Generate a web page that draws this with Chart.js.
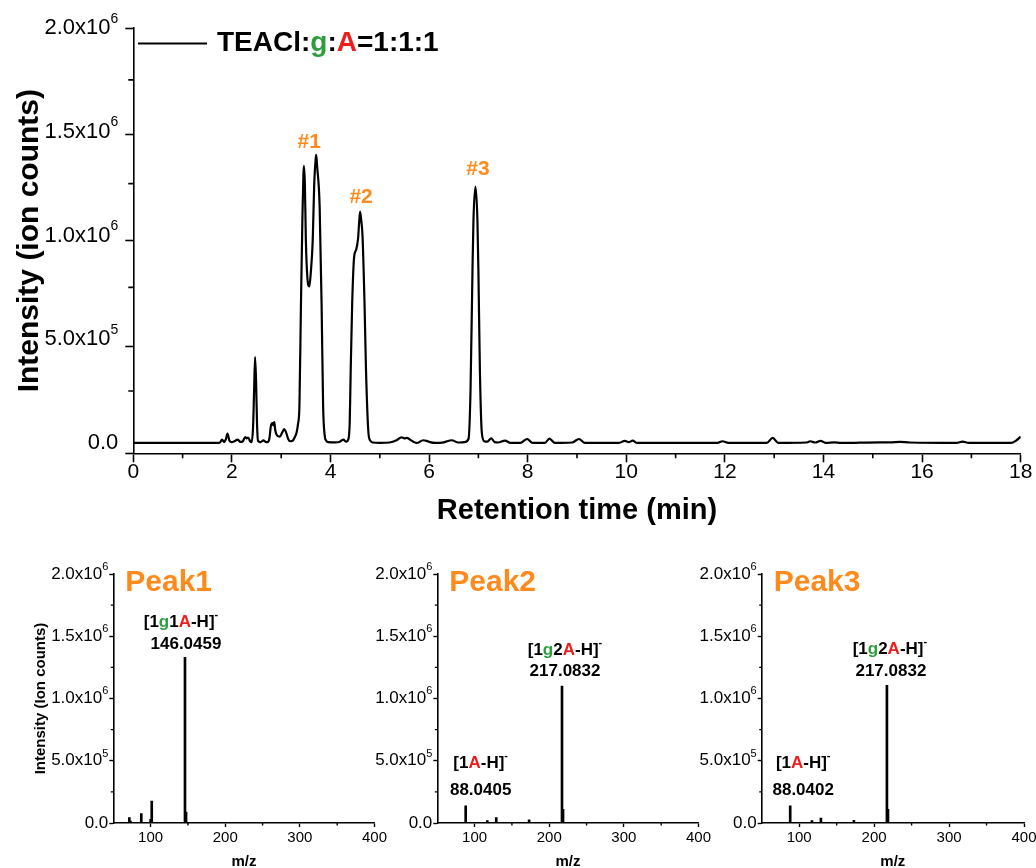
<!DOCTYPE html>
<html>
<head>
<meta charset="utf-8">
<title>TEACl:g:A=1:1:1 — chromatogram and spectra</title>
<script src="https://cdn.jsdelivr.net/npm/chart.js@4.4.1/dist/chart.umd.min.js"></script>
<style>
  html, body { margin: 0; padding: 0; background: #fff; }
  #wrap { position: relative; width: 1036px; height: 868px; overflow: hidden; }
  canvas { position: absolute; }
</style>
</head>
<body>
<div id="wrap">
  <canvas id="chrom" width="1036" height="540" style="left:0;top:0"></canvas>
  <canvas id="ms1" width="400" height="328" style="left:0;top:540px"></canvas>
  <canvas id="ms2" width="380" height="328" style="left:340px;top:540px"></canvas>
  <canvas id="ms3" width="366" height="328" style="left:670px;top:540px"></canvas>
</div>
<script>
// ---------- chromatogram (retention time in min, intensity in ion counts) ----------
const retentionTime = [
  0.00, 1.00, 1.70, 1.76, 1.80, 1.84, 1.88, 1.91, 1.95, 1.99, 2.05, 2.12, 2.17, 2.22, 2.27, 2.30,
  2.33, 2.37, 2.40, 2.43, 2.45, 2.47, 2.49, 2.51, 2.53, 2.58, 2.64, 2.68, 2.72, 2.76, 2.79, 2.82,
  2.84, 2.86, 2.88, 2.92, 2.97, 3.02, 3.06, 3.10, 3.14, 3.18, 3.23, 3.28, 3.31, 3.34, 3.37, 3.40,
  3.43, 3.45, 3.46, 3.48, 3.50, 3.53, 3.57, 3.60, 3.64, 3.67, 3.70, 3.71, 3.73, 3.78, 3.82, 3.85,
  3.88, 3.91, 3.95, 4.10, 4.19, 4.26, 4.32, 4.36, 4.39, 4.41, 4.44, 4.48, 4.52, 4.56, 4.58, 4.60,
  4.62, 4.65, 4.69, 4.72, 4.77, 4.81, 4.86, 5.00, 5.20, 5.34, 5.44, 5.50, 5.55, 5.61, 5.68, 5.75,
  5.88, 5.95, 6.02, 6.12, 6.30, 6.46, 6.59, 6.72, 6.80, 6.84, 6.88, 6.90, 6.94, 6.98, 7.00, 7.03,
  7.07, 7.12, 7.18, 7.26, 7.33, 7.40, 7.54, 7.65, 7.85, 7.99, 8.10, 8.35, 8.44, 8.55, 8.90, 9.04,
  9.16, 9.85, 9.97, 10.05, 10.13, 10.22, 11.85, 11.95, 12.07, 12.85, 12.97, 13.08, 13.65, 13.73, 13.83, 13.94,
  14.05, 14.22, 14.35, 15.15, 15.35, 15.55, 15.75, 16.70, 16.82, 16.95, 17.80, 17.90, 18.00
];
const intensity = [
  0, 0, 0, 2e3, 16e3, 4e3, 20e3, 45e3, 10e3, 4e3, 8e3, 16e3, 5e3, 8e3, 28e3, 22e3,
  26e3, 8e3, 4e3, 80e3, 250e3, 414e3, 300e3, 90e3, 10e3, 4e3, 12e3, 6e3, 4e3, 20e3, 80e3, 95e3,
  85e3, 100e3, 60e3, 35e3, 30e3, 50e3, 67e3, 50e3, 20e3, 8e3, 10e3, 30e3, 48e3, 90e3, 180e3, 660e3,
  1080e3, 1290e3, 1335e3, 1250e3, 980e3, 800e3, 754e3, 820e3, 980e3, 1250e3, 1370e3, 1388e3, 1330e3, 1140e3, 660e3, 180e3,
  40e3, 12e3, 4e3, 3e3, 6e3, 16e3, 6e3, 16e3, 100e3, 353e3, 674e3, 898e3, 931e3, 987e3, 1060e3, 1115e3,
  1080e3, 995e3, 674e3, 353e3, 48e3, 10e3, 2e3, 0, 2e3, 13e3, 27e3, 22e3, 24e3, 16e3, 6e3, 0,
  13e3, 10e3, 4e3, 0, 3e3, 13e3, 2e3, 4e3, 20e3, 250e3, 834e3, 1075e3, 1236e3, 1075e3, 834e3, 353e3,
  48e3, 8e3, 6e3, 22e3, 4e3, 2e3, 11e3, 0, 0, 19e3, 0, 0, 21e3, 0, 2e3, 19e3,
  0, 0, 10e3, 4e3, 11e3, 0, 0, 8e3, 0, 0, 24e3, 0, 2e3, 8e3, 2e3, 10e3,
  0, 3e3, 0, 3e3, 3e3, 5e3, 2e3, 0, 6e3, 0, 0, 10e3, 30e3
];

// axis ticks
const rtTicks = [0, 2, 4, 6, 8, 10, 12, 14, 16, 18];
const rtMinorTicks = [1, 3, 5, 7, 9, 11, 13, 15, 17];
const intensityTicks = [0, 5e5, 1e6, 1.5e6, 2e6];
const intensityTickMantissa = ['0.0', '5.0x10', '1.0x10', '1.5x10', '2.0x10'];
const intensityTickExponent = ['', '5', '6', '6', '6'];
const intensityMinorTicks = [2.5e5, 7.5e5, 1.25e6, 1.75e6];

// peak tags above the chromatogram
const peakTags = ['#1', '#2', '#3'];
const peakTagTime = [3.57, 4.62, 6.99];
const peakTagIntensity = [1.448e6, 1.183e6, 1.318e6];

// ---------- mass spectra (m/z, intensity in ion counts) ----------
const mzTicks = [100, 200, 300, 400];
const mzMinorTicks = [150, 250, 350];

const peak1Mz = [71.5, 73, 87.5, 100, 101.5, 130, 146.0459, 147.5, 203, 315, 347];
const peak1Intensity = [43e3, 15e3, 75e3, 30e3, 177e3, 4e3, 1.33e6, 88e3, 3e3, 6e3, 6e3];
const peak2Mz = [88.0405, 117, 129, 150, 173, 217.0832, 218.5];
const peak2Intensity = [137e3, 20e3, 43e3, 4e3, 25e3, 1.10e6, 110e3];
const peak3Mz = [88.0402, 117, 129, 150, 173, 217.0832, 218.5];
const peak3Intensity = [137e3, 20e3, 40e3, 4e3, 22e3, 1.105e6, 110e3];

const FONT = '"Liberation Sans", Arial, Helvetica, sans-serif';
const GREEN = '#2c9e3c';
const RED = '#f01c1c';
const ORANGE = '#ff8a1c';

// ---------- text helpers (coloured runs and superscripts) ----------
function runFont(size, weight, sup) {
  return weight + ' ' + (sup ? Math.round(size * 0.62) : size) + 'px ' + FONT;
}
function drawRich(ctx, parts, x, y, size, weight, align) {
  let w = 0;
  parts.forEach(p => { ctx.font = runFont(size, weight, p.sup); w += ctx.measureText(p.t).width; });
  let cx = align === 'center' ? x - w / 2 : (align === 'right' ? x - w : x);
  ctx.save();
  ctx.textBaseline = 'middle';
  ctx.textAlign = 'left';
  parts.forEach(p => {
    ctx.font = runFont(size, weight, p.sup);
    ctx.fillStyle = p.c || '#000';
    ctx.fillText(p.t, cx, p.sup ? y - size * 0.42 : y);
    cx += ctx.measureText(p.t).width;
  });
  ctx.restore();
}
function drawMinorTicks(ctx, chart, xs, ys, len, width) {
  const a = chart.chartArea, sx = chart.scales.x, sy = chart.scales.y;
  ctx.save();
  ctx.strokeStyle = '#000';
  ctx.lineWidth = width;
  ctx.beginPath();
  xs.forEach(v => { const px = sx.getPixelForValue(v); ctx.moveTo(px, a.bottom); ctx.lineTo(px, a.bottom + len); });
  ys.forEach(v => { const py = sy.getPixelForValue(v); ctx.moveTo(a.left, py); ctx.lineTo(a.left - len, py); });
  ctx.stroke();
  ctx.restore();
}
function intensityLabelParts(i) {
  return [{ t: intensityTickMantissa[i] }, { t: intensityTickExponent[i], sup: true }];
}

// ---------- chromatogram ----------
const chromDecor = {
  id: 'chromDecor',
  afterDraw(chart) {
    const { ctx, chartArea: a, scales: { x, y } } = chart;
    drawMinorTicks(ctx, chart, rtMinorTicks, intensityMinorTicks, 5, 1.6);
    rtTicks.forEach(v => drawRich(ctx, [{ t: String(v) }], x.getPixelForValue(v), a.bottom + 18.5, 21, 'normal', 'center'));
    intensityTicks.forEach((v, i) => drawRich(ctx, intensityLabelParts(i), a.left - 15, y.getPixelForValue(v), 22, 'normal', 'right'));

    // legend: line sample and coloured label
    const ly = 43.5;
    ctx.save();
    ctx.strokeStyle = '#000';
    ctx.lineWidth = 2.2;
    ctx.beginPath();
    ctx.moveTo(138, ly);
    ctx.lineTo(207, ly);
    ctx.stroke();
    ctx.restore();
    drawRich(ctx, [
      { t: 'TEACl:' }, { t: 'g', c: GREEN }, { t: ':' }, { t: 'A', c: RED }, { t: '=1:1:1' }
    ], 217, ly, 28, 'bold', 'left');

    // peak tags
    peakTags.forEach((tag, i) => drawRich(ctx, [{ t: tag, c: ORANGE }],
      x.getPixelForValue(peakTagTime[i]), y.getPixelForValue(peakTagIntensity[i]), 21, 'bold', 'center'));
  }
};

new Chart(document.getElementById('chrom'), {
  type: 'line',
  data: {
    datasets: [{
      label: 'TEACl:g:A=1:1:1',
      data: retentionTime.map((t, i) => ({ x: t, y: intensity[i] })),
      borderColor: '#000',
      borderWidth: 2.2,
      pointRadius: 0,
      fill: false,
      cubicInterpolationMode: 'monotone'
    }]
  },
  options: {
    responsive: false,
    animation: false,
    devicePixelRatio: 1,
    layout: { padding: { left: 0, right: 15.3, top: 28, bottom: 0 } },
    plugins: { legend: { display: false }, tooltip: { enabled: false } },
    scales: {
      x: {
        type: 'linear', min: 0, max: 18,
        ticks: { stepSize: 2, display: false },
        grid: { display: true, drawOnChartArea: false, drawTicks: true, tickLength: 9, tickWidth: 1.6, tickColor: '#000' },
        border: { display: true, color: '#000', width: 1.6 },
        title: { display: true, text: 'Retention time (min)', color: '#000',
                 font: { family: FONT, size: 29, weight: 'bold' }, padding: { top: 0, bottom: 12 } },
        afterFit(s) { s.height = 86.7; }
      },
      y: {
        type: 'linear', min: -5e4, max: 2e6,
        ticks: { stepSize: 5e5, display: false, includeBounds: false },
        grid: { display: true, drawOnChartArea: false, drawTicks: true, tickLength: 8, tickWidth: 1.6, tickColor: '#000' },
        border: { display: true, color: '#000', width: 1.6 },
        title: { display: true, text: 'Intensity (ion counts)', color: '#000',
                 font: { family: FONT, size: 30, weight: 'bold' }, padding: { top: 12, bottom: 0 } },
        afterFit(s) { s.width = 133.3; }
      }
    }
  },
  plugins: [chromDecor]
});

// ---------- mass spectra ----------
function ionParts(runs) {
  return runs.map(r => ({ t: r[0], c: r[1] === 'g' ? GREEN : (r[1] === 'A' ? RED : '#000'), sup: r[1] === 'sup' }));
}

const spectrumPanels = [
  {
    id: 'ms1', title: 'Peak1', mz: peak1Mz, values: peak1Intensity, yTitle: true,
    pad: { left: 113.3, right: 25.5 },
    ions: [
      { mz: 146.0459, runs: [['[1'], ['g', 'g'], ['1'], ['A', 'A'], ['-H]'], ['-', 'sup']], mass: '146.0459',
        dxIon: -4, dyIon: 35, dxMass: 1, dyMass: 13.5 }
    ]
  },
  {
    id: 'ms2', title: 'Peak2', mz: peak2Mz, values: peak2Intensity, yTitle: false,
    pad: { left: 97.3, right: 21.5 },
    ions: [
      { mz: 217.0832, runs: [['[1'], ['g', 'g'], ['2'], ['A', 'A'], ['-H]'], ['-', 'sup']], mass: '217.0832',
        dxIon: 3, dyIon: 36, dxMass: 3, dyMass: 14.5 },
      { mz: 88.0405, runs: [['[1'], ['A', 'A'], ['-H]'], ['-', 'sup']], mass: '88.0405',
        dxIon: 15, dyIon: 43, dxMass: 15, dyMass: 16 }
    ]
  },
  {
    id: 'ms3', title: 'Peak3', mz: peak3Mz, values: peak3Intensity, yTitle: false,
    pad: { left: 91.7, right: 12 },
    ions: [
      { mz: 217.0832, runs: [['[1'], ['g', 'g'], ['2'], ['A', 'A'], ['-H]'], ['-', 'sup']], mass: '217.0832',
        dxIon: 3, dyIon: 36, dxMass: 4, dyMass: 14.5 },
      { mz: 88.0402, runs: [['[1'], ['A', 'A'], ['-H]'], ['-', 'sup']], mass: '88.0402',
        dxIon: 13, dyIon: 43, dxMass: 13, dyMass: 16 }
    ]
  }
];

spectrumPanels.forEach(panel => {
  const decor = {
    id: 'msDecor',
    afterDraw(chart) {
      const { ctx, chartArea: a, scales: { x, y } } = chart;
      drawMinorTicks(ctx, chart, mzMinorTicks, intensityMinorTicks, 2.5, 1.4);
      mzTicks.forEach(v => drawRich(ctx, [{ t: String(v) }], x.getPixelForValue(v), a.bottom + 15, 15, 'normal', 'center'));
      intensityTicks.forEach((v, i) => drawRich(ctx, intensityLabelParts(i), a.left - 5, y.getPixelForValue(v), 17, 'normal', 'right'));
      drawRich(ctx, [{ t: panel.title, c: ORANGE }], a.left + 12, 42.5, 30, 'bold', 'left');
      panel.ions.forEach(ion => {
        const k = panel.mz.indexOf(ion.mz);
        const px = x.getPixelForValue(ion.mz);
        const top = y.getPixelForValue(panel.values[k]);
        drawRich(ctx, ionParts(ion.runs), px + ion.dxIon, top - ion.dyIon, 17, 'bold', 'center');
        drawRich(ctx, [{ t: ion.mass }], px + ion.dxMass, top - ion.dyMass, 17, 'bold', 'center');
      });
    }
  };

  new Chart(document.getElementById(panel.id), {
    type: 'bar',
    data: {
      datasets: [{
        label: panel.title,
        data: panel.mz.map((m, i) => ({ x: m, y: panel.values[i] })),
        backgroundColor: '#000',
        borderWidth: 0,
        barThickness: 2
      }]
    },
    options: {
      responsive: false,
      animation: false,
      devicePixelRatio: 1,
      layout: { padding: { left: 0, right: panel.pad.right, top: 34, bottom: 0 } },
      plugins: { legend: { display: false }, tooltip: { enabled: false } },
      scales: {
        x: {
          type: 'linear', min: 50, max: 400, offset: false,
          ticks: { stepSize: 100, display: false, includeBounds: false },
          grid: { display: true, offset: false, drawOnChartArea: false, drawTicks: true, tickLength: 4, tickWidth: 1.4, tickColor: '#000' },
          border: { display: true, color: '#000', width: 1.6 },
          title: { display: true, text: 'm/z', color: '#000',
                   font: { family: FONT, size: 15, weight: 'bold', lineHeight: 0.8 }, padding: 0 },
          afterFit(s) { s.height = 45; }
        },
        y: {
          type: 'linear', min: 0, max: 2e6,
          ticks: { stepSize: 5e5, display: false, includeBounds: false },
          grid: { display: true, drawOnChartArea: false, drawTicks: true, tickLength: 4, tickWidth: 1.4, tickColor: '#000' },
          border: { display: true, color: '#000', width: 1.6 },
          title: { display: panel.yTitle, text: 'Intensity (Ion counts)', color: '#000',
                   font: { family: FONT, size: 15, weight: 'bold' }, padding: { top: 32, bottom: 0 } },
          afterFit(s) { s.width = panel.pad.left; }
        }
      }
    },
    plugins: [decor]
  });
});
</script>
</body>
</html>
